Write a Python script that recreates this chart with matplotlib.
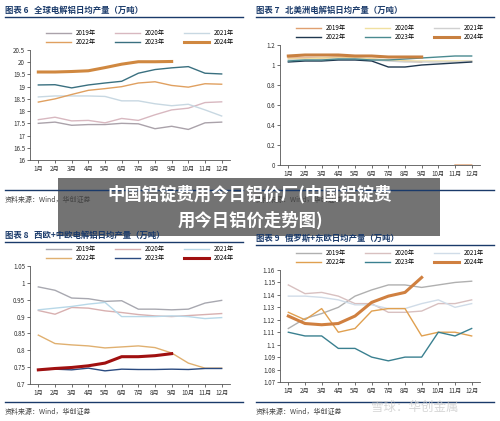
import numpy as np
import matplotlib
matplotlib.use("Agg")
import matplotlib.pyplot as plt
from matplotlib.patches import Rectangle

plt.rcParams['font.family'] = ['Noto Sans CJK SC', 'DejaVu Sans']

months = [f"{i}月" for i in range(1, 13)]
years = ["2019年", "2020年", "2021年", "2022年", "2023年", "2024年"]
nan = np.nan

p1 = [
    [17.5,17.55,17.42,17.45,17.45,17.5,17.48,17.28,17.38,17.25,17.52,17.55],
    [17.65,17.75,17.6,17.62,17.52,17.7,17.62,17.85,18.05,18.12,18.35,18.38],
    [18.58,18.62,18.62,18.62,18.6,18.42,18.42,18.3,18.22,18.28,18.05,17.8],
    [18.37,18.5,18.68,18.85,18.92,19.0,19.15,19.2,19.05,18.98,19.12,19.1],
    [19.07,19.08,18.95,19.07,19.15,19.22,19.55,19.7,19.77,19.82,19.55,19.52],
    [19.6,19.6,19.62,19.65,19.78,19.92,20.02,20.02,20.03],
]
p2 = [
    [1.07,1.07,1.07,1.08,1.07,1.06,1.05,1.04,1.03,nan,0.0,0.0],
    [1.06,1.06,1.07,1.07,1.07,1.06,1.05,1.04,1.04,1.04,1.04,1.04],
    [1.05,1.05,1.05,1.06,1.06,1.05,1.04,1.03,1.03,1.03,1.03,1.04],
    [1.03,1.04,1.04,1.05,1.05,1.04,0.98,0.98,1.0,1.01,1.02,1.03],
    [1.04,1.05,1.05,1.06,1.06,1.05,1.05,1.06,1.07,1.08,1.09,1.09],
    [1.09,1.1,1.1,1.1,1.09,1.09,1.08,1.08,1.08],
]
p3 = [
    [.988,.978,.955,.953,.945,.947,.922,.922,.920,.922,.940,.948],
    [.918,.907,.927,.925,.917,.912,.906,.902,.900,.903,.906,.909],
    [.920,.925,.930,.937,.942,.900,.900,.900,.902,.900,.894,.897],
    [.845,.820,.816,.813,.807,.810,.813,.808,.792,.762,.747,.747],
    [.742,.744,.742,.747,.739,.744,.743,.743,.744,.743,.746,.746],
    [.742,.746,.749,.754,.762,.781,.781,.784,.790],
]
p4 = [
    [1.113,1.121,1.125,1.130,1.139,1.144,1.148,1.148,1.146,1.148,1.150,1.151],
    [1.148,1.141,1.142,1.139,1.133,1.133,1.126,1.126,1.127,1.133,1.133,1.136],
    [1.139,1.139,1.138,1.136,1.132,1.132,1.129,1.129,1.133,1.136,1.130,1.133],
    [1.126,1.120,1.129,1.110,1.113,1.127,1.129,1.129,1.107,1.110,1.110,1.107],
    [1.110,1.107,1.107,1.097,1.097,1.090,1.087,1.090,1.090,1.110,1.107,1.113],
    [1.123,1.117,1.116,1.117,1.123,1.134,1.139,1.142,1.154],
]

panels = [
    dict(data=p1, title="图表 6   全球电解铝日均产量（万吨）", ylim=(16, 20.5), ticks=np.arange(16, 20.51, 0.5),
         fmt=lambda v: f"{v:g}", rect=(30, 50, 230, 160), top=2,
         colors=["#aaa2aa", "#d8b8c0", "#c8d8e2", "#e0a060", "#3a7080", "#d08840"]),
    dict(data=p2, title="图表 7   北美洲电解铝日均产量（万吨）", ylim=(0, 1.2), ticks=np.arange(0, 1.21, 0.2),
         fmt=lambda v: f"{v:g}", rect=(280, 45, 480, 165), top=2,
         colors=["#e0a070", "#f0e0a0", "#d0d0d0", "#203850", "#4a8a90", "#c88040"]),
    dict(data=p3, title="图表 8   西欧+中欧电解铝日均产量（万吨）", ylim=(0.7, 1.05), ticks=np.arange(0.7, 1.051, 0.05),
         fmt=lambda v: f"{round(v,2):g}", rect=(30, 266, 230, 384), top=227,
         colors=["#a8a8b0", "#d8b0b0", "#b8d8e8", "#e0b070", "#2a4a80", "#a01010"]),
    dict(data=p4, title="图表 9   俄罗斯+东欧日均产量（万吨）", ylim=(1.07, 1.16), ticks=np.arange(1.07, 1.1601, 0.01),
         fmt=lambda v: f"{round(v,2):g}", rect=(280, 270, 480, 382), top=230,
         colors=["#b0b0b0", "#d8c0c0", "#d0dce8", "#e0a050", "#3a8090", "#d08040"]),
]

W, H = 500, 421
fig = plt.figure(figsize=(5, 4.21), dpi=100)
fig.patch.set_facecolor("white")

for i, p in enumerate(panels):
    x0, y0, x1, y1 = p["rect"]
    ax = fig.add_axes([x0 / W, 1 - y1 / H, (x1 - x0) / W, (y1 - y0) / H])
    handles = []
    for j, (ser, c) in enumerate(zip(p["data"], p["colors"])):
        x = np.arange(1, len(ser) + 1)
        h, = ax.plot(x, ser, color=c, lw=2.2 if j == 5 else 1.0, label=years[j])
        handles.append(h)
    order = [0, 3, 1, 4, 2, 5]
    ax.set_xlim(0.5, 12.5)
    ax.set_ylim(*p["ylim"])
    ax.set_xticks(range(1, 13))
    ax.set_xticklabels(months, fontsize=4.5)
    ax.set_yticks(p["ticks"])
    ax.set_yticklabels([p["fmt"](v) for v in p["ticks"]], fontsize=4.5)
    ax.tick_params(length=2, width=0.5, pad=1.5, colors="#333333")
    for s in ["top", "right"]:
        ax.spines[s].set_visible(False)
    for s in ["left", "bottom"]:
        ax.spines[s].set_linewidth(0.6)
        ax.spines[s].set_color("#555555")
    ax.legend([handles[k] for k in order], [years[k] for k in order],
              ncol=3, fontsize=4.5, frameon=False, loc="lower center",
              bbox_to_anchor=(0.55, 1.0), handlelength=4, columnspacing=3,
              labelspacing=0.2, borderaxespad=0.2)
    tx = 5 if x0 < 250 else 256
    ty = p["top"]
    fig.text(tx / W, 1 - (ty + 8) / H, p["title"], fontsize=6, fontweight="bold",
             color="#1a3a6a", va="center")
    fig.add_artist(plt.Line2D([tx / W, (tx + 238) / W], [1 - (ty + 15) / H] * 2,
                              color="#1a3a6a", lw=1.0))
    sy = 200 if i < 2 else 412
    fig.add_artist(plt.Line2D([tx / W, (tx + 238) / W], [1 - (sy - 10) / H] * 2,
                              color="#1a3a6a", lw=1.0))
    fig.text(tx / W, 1 - sy / H, "资料来源：Wind，华创证券", fontsize=5, style="italic",
             color="#444444", va="center")

fig.add_artist(Rectangle((58 / W, 1 - 236 / H), (440 - 58) / W, (236 - 178) / H,
                         transform=fig.transFigure, facecolor="#5a5a5a", alpha=0.85,
                         edgecolor="none"))
fig.text(0.5, 1 - 194 / H, "中国铝锭费用今日铝价厂(中国铝锭费", fontsize=12.5,
         fontweight="bold", color="white", ha="center", va="center")
fig.text(0.5, 1 - 220 / H, "用今日铝价走势图)", fontsize=12.5,
         fontweight="bold", color="white", ha="center", va="center")
fig.text(0.83, 1 - 407 / H, "雪球：华创金属", fontsize=9, color="#cccccc",
         ha="center", va="center", alpha=0.8)

fig.savefig("out.png", dpi=100)
